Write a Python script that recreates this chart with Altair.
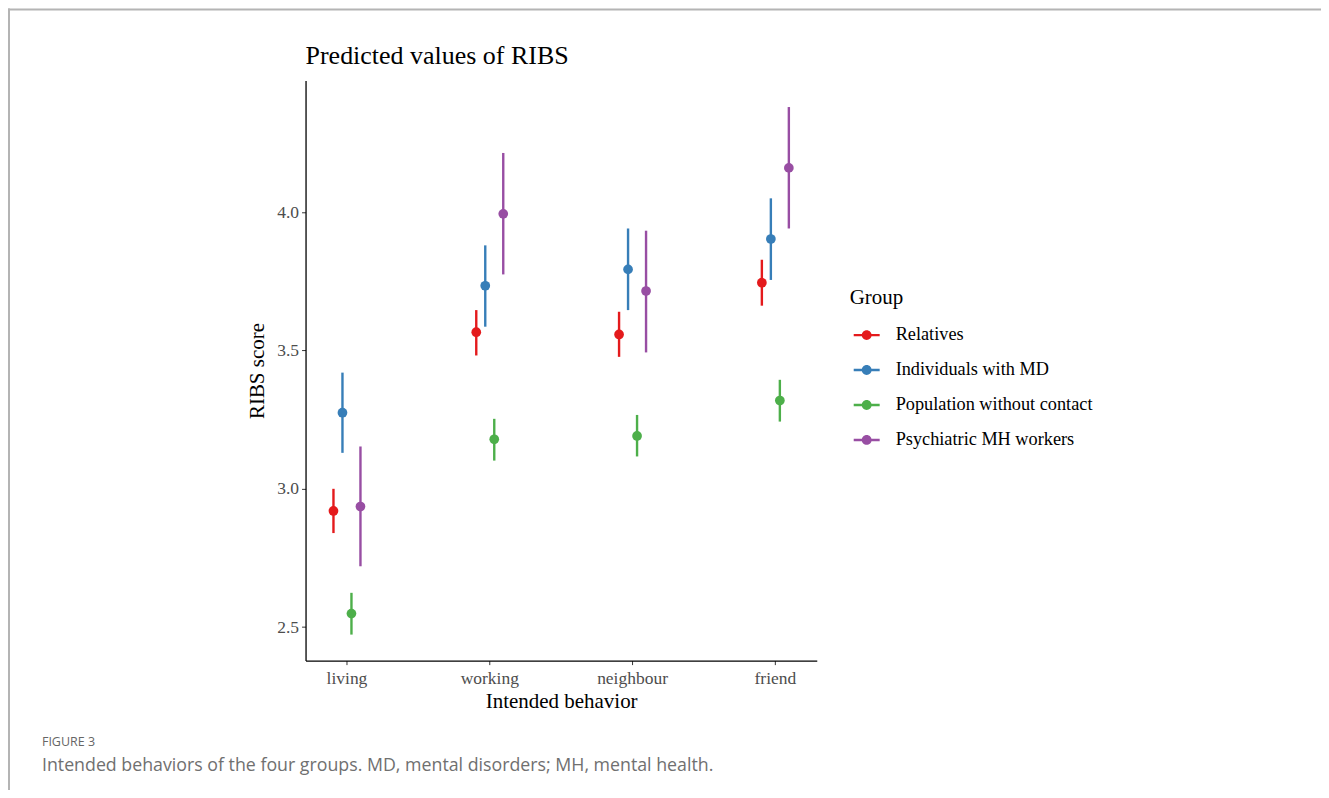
import altair as alt
import pandas as pd

behaviors = ["living", "working", "neighbour", "friend"]
groups = ["Relatives", "Individuals with MD", "Population without contact", "Psychiatric MH workers"]
colors = ["#E41A1C", "#377EB8", "#4DAF4A", "#984EA3"]

# predicted RIBS values (estimate, lower, upper) per group, in behavior order
relatives_est = [2.920, 3.566, 3.558, 3.745]
relatives_lo = [2.840, 3.482, 3.477, 3.662]
relatives_hi = [3.000, 3.646, 3.640, 3.828]

md_est = [3.275, 3.734, 3.793, 3.903]
md_lo = [3.130, 3.586, 3.646, 3.755]
md_hi = [3.420, 3.880, 3.941, 4.050]

pop_est = [2.549, 3.179, 3.191, 3.319]
pop_lo = [2.473, 3.102, 3.117, 3.243]
pop_hi = [2.624, 3.253, 3.267, 3.394]

psy_est = [2.936, 3.994, 3.715, 4.160]
psy_lo = [2.720, 3.775, 3.493, 3.941]
psy_hi = [3.153, 4.214, 3.933, 4.380]

y_ticks = [2.5, 3.0, 3.5, 4.0]

series = [
    (groups[0], relatives_est, relatives_lo, relatives_hi),
    (groups[1], md_est, md_lo, md_hi),
    (groups[2], pop_est, pop_lo, pop_hi),
    (groups[3], psy_est, psy_lo, psy_hi),
]
rows = []
for g, est, lo, hi in series:
    for b, e, l, h in zip(behaviors, est, lo, hi):
        rows.append({"behavior": b, "group": g, "est": e, "lo": l, "hi": h})
df = pd.DataFrame(rows)

W, H = 512, 581
SERIF = "Liberation Serif"
SANS = "Open Sans"

xenc = alt.X(
    "behavior:N",
    sort=behaviors,
    scale=alt.Scale(type="band", paddingInner=0.748, paddingOuter=0.164),
    axis=alt.Axis(
        title="Intended behavior",
        labelAngle=0,
        labelFont=SERIF,
        labelFontSize=17.5,
        labelColor="#4d4d4d",
        labelPadding=5,
        titleFont=SERIF,
        titleFontSize=21,
        titleFontWeight="normal",
        titleColor="#000000",
        titlePadding=3,
        tickSize=4,
        tickColor="#333333",
        domainColor="#000000",
        domainWidth=1.3,
        grid=False,
    ),
)
xoff = alt.XOffset(
    "group:N",
    sort=groups,
    scale=alt.Scale(type="band", paddingInner=0, paddingOuter=0),
)
yscale = alt.Scale(domain=[2.379, 4.476], nice=False, zero=False)
yaxis = alt.Axis(
    title="RIBS score",
    values=y_ticks,
    format=".1f",
    labelFont=SERIF,
    labelFontSize=17.5,
    labelColor="#4d4d4d",
    labelPadding=3,
    titleFont=SERIF,
    titleFontSize=21,
    titleFontWeight="normal",
    titleColor="#000000",
    titlePadding=9,
    tickSize=4,
    tickColor="#333333",
    domainColor="#000000",
    domainWidth=1.3,
    grid=False,
)

legend_symbol = (
    "M-1,-0.092 L1,-0.092 L1,0.092 L-1,0.092 Z "
    "M-0.38,0 A0.38,0.38 0 1,1 0.38,0 A0.38,0.38 0 1,1 -0.38,0 Z"
)

color_scale = alt.Scale(domain=groups, range=colors)
legend = alt.Legend(
    title="Group",
    orient="none",
    legendX=545,
    legendY=207,
    padding=0,
    titleFont=SERIF,
    titleFontSize=21,
    titleFontWeight="normal",
    titleColor="#000000",
    titlePadding=14,
    labelFont=SERIF,
    labelFontSize=18.3,
    labelColor="#000000",
    labelLimit=0,
    labelOffset=16,
    symbolType=legend_symbol,
    symbolSize=676,
    symbolStrokeWidth=0,
    symbolOffset=4,
    rowPadding=13,
)

base = alt.Chart(df)

rules = base.mark_rule(strokeWidth=2.4).encode(
    x=xenc,
    xOffset=xoff,
    y=alt.Y("lo:Q", scale=yscale, axis=yaxis),
    y2="hi:Q",
    color=alt.Color("group:N", sort=groups, scale=color_scale, legend=legend),
)

points = base.mark_point(filled=True, size=95, opacity=1).encode(
    x=xenc,
    xOffset=xoff,
    y=alt.Y("est:Q", scale=yscale),
    color=alt.Color("group:N", sort=groups, scale=color_scale, legend=legend),
)

one = pd.DataFrame({"k": [0]})

title_txt = alt.Chart(one).mark_text(
    text="Predicted values of RIBS", font=SERIF, fontSize=26, align="left",
    baseline="alphabetic", color="#000000",
).encode(x=alt.value(0), y=alt.value(-17))

fig_txt = alt.Chart(one).mark_text(
    text="FIGURE 3", font=SANS, fontSize=12.5, align="left",
    baseline="alphabetic", color="#666666",
).encode(x=alt.value(42 - 306), y=alt.value(747 - 80))

cap_txt = alt.Chart(one).mark_text(
    text="Intended behaviors of the four groups. MD, mental disorders; MH, mental health.",
    font=SANS, fontSize=17.8, align="left", baseline="alphabetic",
    color="#707070",
).encode(x=alt.value(42 - 306), y=alt.value(772 - 80))

frame_top = alt.Chart(one).mark_rule(color="#b4b4b4", strokeWidth=2).encode(
    x=alt.value(8 - 306), x2=alt.value(1323 - 306), y=alt.value(9 - 80)
)
frame_left = alt.Chart(one).mark_rule(color="#b4b4b4", strokeWidth=2).encode(
    x=alt.value(9 - 306), y=alt.value(8 - 80), y2=alt.value(794 - 80)
)

chart = (
    alt.layer(rules, points, title_txt, fig_txt, cap_txt, frame_top, frame_left)
    .properties(
        width=W,
        height=H,
        autosize=alt.AutoSizeParams(type="none"),
        padding={"left": 298, "top": 72, "right": 505, "bottom": 129},
        background="white",
    )
    .configure_view(stroke=None)
)

chart.save("out.html", embed_options={"renderer": "svg", "actions": False})
